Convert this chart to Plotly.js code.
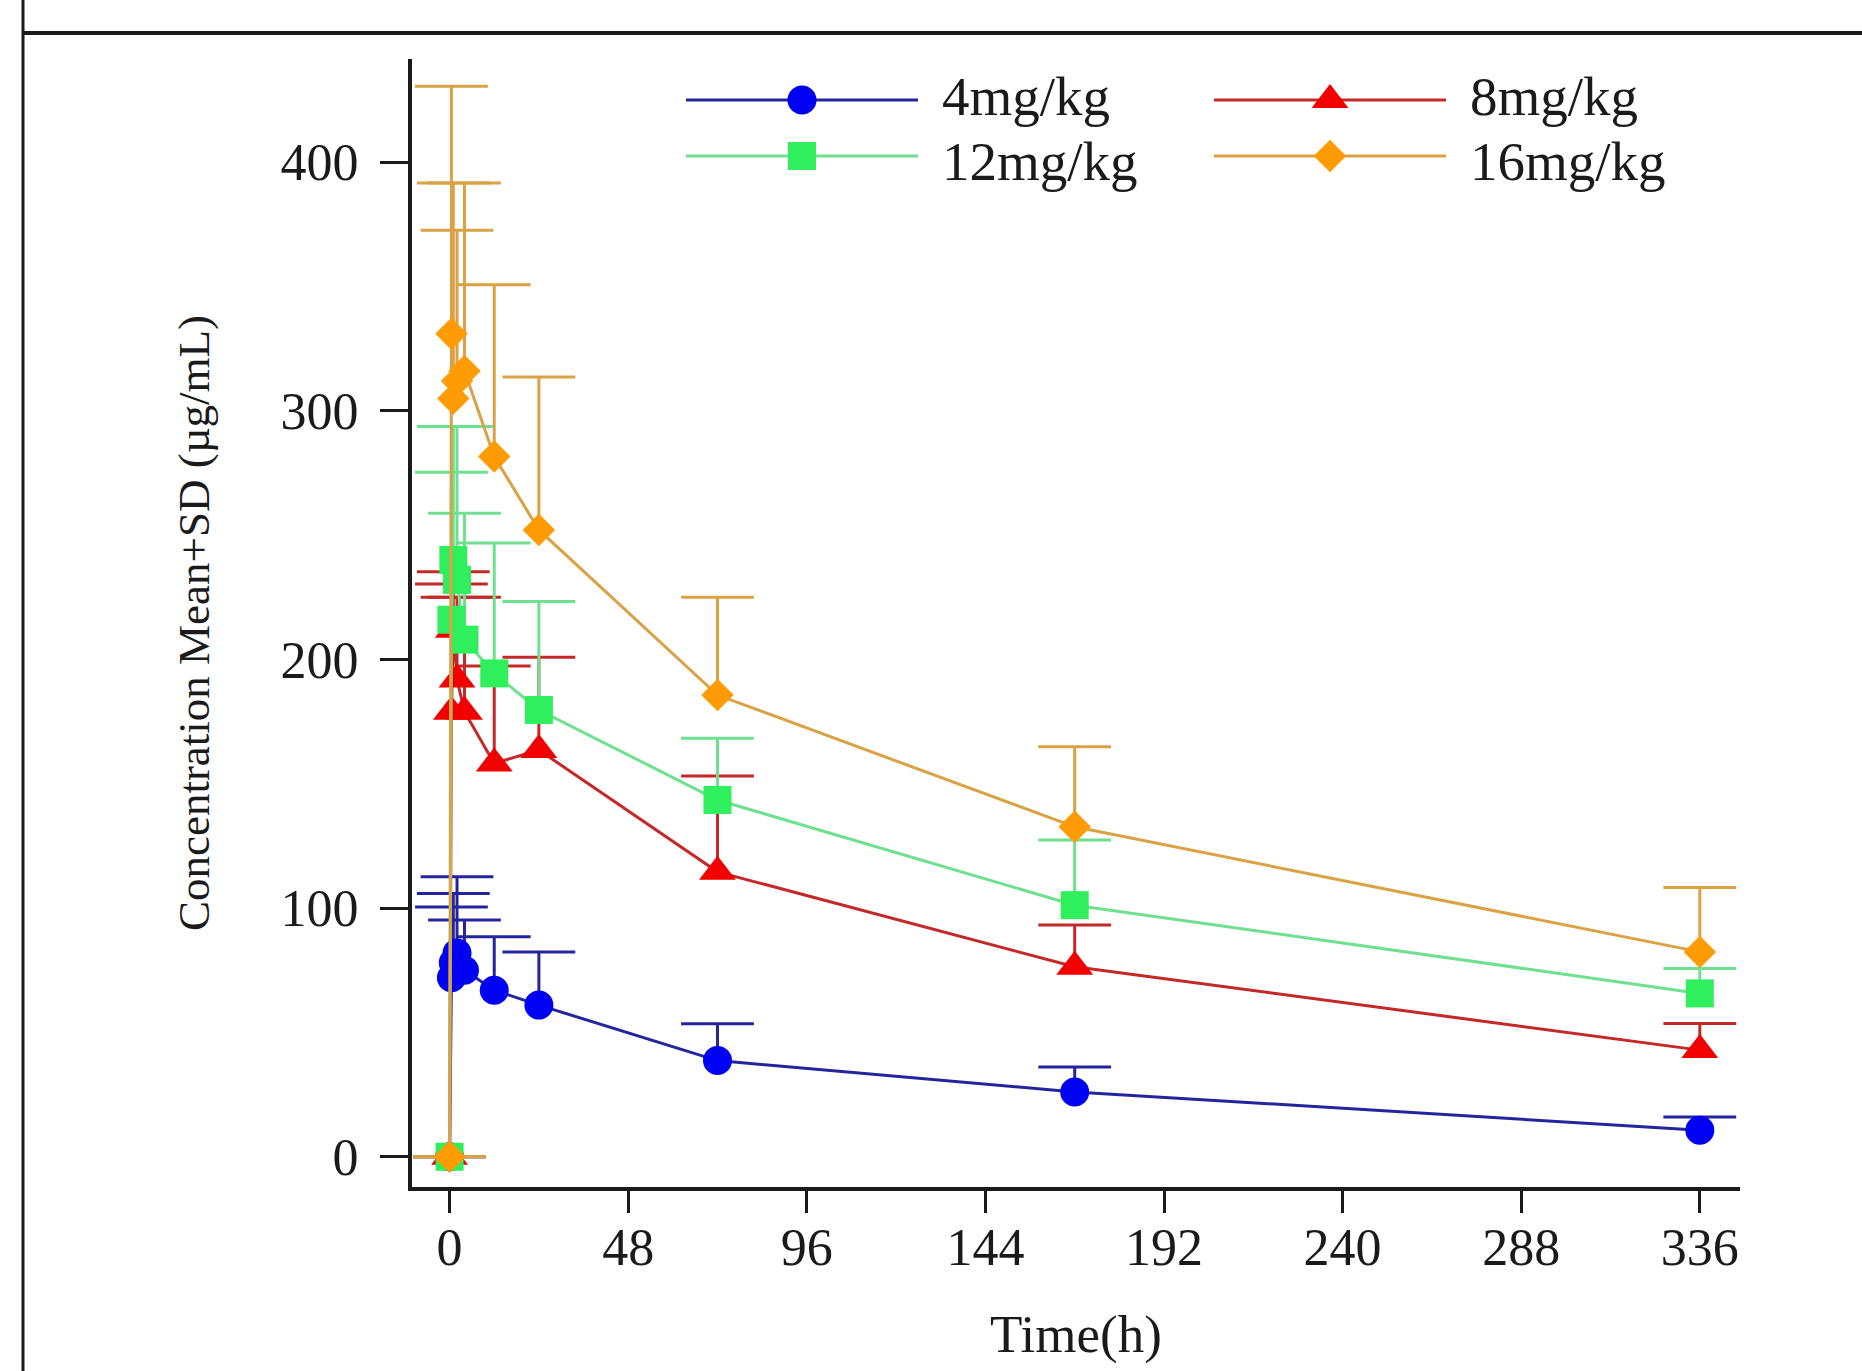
<!DOCTYPE html>
<html>
<head>
<meta charset="utf-8">
<script src="https://cdn.plot.ly/plotly-3.0.1.min.js"></script>
<style>
html,body{margin:0;padding:0;background:#fff;}
#chart{width:1862px;height:1371px;}
</style>
</head>
<body>
<div id="chart"></div>
<script>
// ---------------- data ----------------
const timeHours = [0, 0.5, 1, 2, 4, 12, 24, 72, 168, 336];
const seriesNames = ['4mg/kg', '8mg/kg', '12mg/kg', '16mg/kg'];

const mean4mg  = [0, 72, 78, 82, 75, 67, 61, 38.7, 26.1, 10.7];
const sd4mg    = [0, 28.5, 27.9, 30.6, 20.2, 21.5, 21.4, 14.8, 10.0, 5.3];

const mean8mg  = [0, 179, 212, 192, 179, 158.2, 163.6, 114.6, 76.4, 42.9];
const sd8mg    = [0, 51.4, 23.3, 33, 46, 39.2, 37.3, 38.5, 16.8, 10.7];

const mean12mg = [0, 216, 240, 232, 208, 194.4, 179.7, 143.5, 101.2, 65.7];
const sd12mg   = [0, 59.3, 53.7, 61.7, 50.8, 52.4, 43.6, 24.8, 26.2, 10.0];

const mean16mg = [0, 331, 305, 312, 316, 281.6, 252.1, 185.7, 132.7, 82.4];
const sd16mg   = [0, 99.5, 86.6, 60.6, 75.6, 69.1, 61.5, 39.3, 32.2, 25.9];

const xTickVals = [0, 48, 96, 144, 192, 240, 288, 336];
const yTickVals = [0, 100, 200, 300, 400];

// ---------------- styles ----------------
const FONT = '"Liberation Serif", "Times New Roman", serif';
const styles = [
  {line: '#24249c', marker: '#0000f2', symbol: 'circle',      size: 29},
  {line: '#c42828', marker: '#f20000', symbol: 'triangle-up', size: 32},
  {line: '#6fe08f', marker: '#2ff05c', symbol: 'square',      size: 28},
  {line: '#dba145', marker: '#ff9b05', symbol: 'diamond',     size: 25}
];
const means = [mean4mg, mean8mg, mean12mg, mean16mg];
const sds = [sd4mg, sd8mg, sd12mg, sd16mg];

// plot-area geometry (px)
const W = 1862, H = 1371;
const M = {l: 412, r: 122, t: 59, b: 184};
const PW = W - M.l - M.r, PH = H - M.t - M.b;
const px2x = p => (p - M.l) / PW;
const py2y = p => (M.t + PH - p) / PH;

const traces = [];
seriesNames.forEach((name, i) => {
  const st = styles[i];
  const upper = means[i].map((m, k) => m + sds[i][k]);
  // caps of the upper error bars
  traces.push({
    type: 'scatter', mode: 'markers', x: timeHours, y: upper,
    marker: {symbol: 'line-ew', size: 52, line: {width: 3, color: st.line}, color: st.line},
    showlegend: false, hoverinfo: 'skip', cliponaxis: false
  });
  // mean line with the error-bar stems
  traces.push({
    type: 'scatter', mode: 'lines+markers', name: name,
    x: timeHours, y: means[i],
    line: {color: st.line, width: 3},
    marker: {symbol: st.symbol, size: st.size, color: st.marker, line: {width: 0}},
    error_y: {type: 'data', symmetric: false, array: sds[i],
              arrayminus: sds[i].map(() => 0), color: st.line, thickness: 3, width: 0},
    showlegend: false, cliponaxis: false
  });
});

// ---------------- custom legend (long line samples like the reference) ----------------
const shapes = [];
const annotations = [];
const legCols = [686, 1214], legRows = [100, 156], legTextRows = [97, 161];
const lineLen = 232;
function markerShape(sym, color, xa, ya, s) {
  const base = {xref: 'paper', yref: 'paper', xsizemode: 'pixel', ysizemode: 'pixel',
                xanchor: xa, yanchor: ya, fillcolor: color, line: {width: 0}, layer: 'above'};
  const r = s / 2;
  if (sym === 'circle') return Object.assign(base, {type: 'circle', x0: -r, x1: r, y0: -r, y1: r});
  if (sym === 'square') return Object.assign(base, {type: 'rect', x0: -r, x1: r, y0: -r, y1: r});
  if (sym === 'diamond') {
    const d = r * 1.3;
    return Object.assign(base, {type: 'path', path: `M${-d},0L0,${d}L${d},0L0,${-d}Z`});
  }
  const rt = r * 2 / Math.sqrt(3);
  return Object.assign(base, {type: 'path', path: `M${-rt},${-r / 2}L${rt},${-r / 2}L0,${r}Z`});
}
seriesNames.forEach((name, i) => {
  const st = styles[i];
  const x0 = legCols[i % 2], row = Math.floor(i / 2), y0 = legRows[row];
  shapes.push({type: 'line', xref: 'paper', yref: 'paper', layer: 'above',
    x0: px2x(x0), x1: px2x(x0 + lineLen), y0: py2y(y0), y1: py2y(y0),
    line: {color: st.line, width: 3}});
  shapes.push(markerShape(st.symbol, st.marker, px2x(x0 + lineLen / 2), py2y(y0), st.size));
  annotations.push({xref: 'paper', yref: 'paper', x: px2x(x0 + 254), y: py2y(legTextRows[row]),
    xanchor: 'left', yanchor: 'middle', showarrow: false, text: name,
    font: {family: FONT, size: 55, color: '#1a1a1a'}});
});

// frame lines of the original figure
shapes.push({type: 'line', xref: 'paper', yref: 'paper', layer: 'above',
  x0: px2x(23), x1: px2x(23), y0: py2y(H), y1: py2y(0), line: {color: '#1a1a1a', width: 3}});
shapes.push({type: 'line', xref: 'paper', yref: 'paper', layer: 'above',
  x0: px2x(23), x1: px2x(W), y0: py2y(33), y1: py2y(33), line: {color: '#1a1a1a', width: 4}});

const layout = {
  width: W, height: H,
  margin: M,
  paper_bgcolor: '#ffffff', plot_bgcolor: '#ffffff',
  font: {family: FONT, color: '#1a1a1a', size: 52},
  showlegend: false,
  xaxis: {
    range: [-10.1, 346.8], tickvals: xTickVals, ticktext: xTickVals.map(String),
    showgrid: false, zeroline: false, showline: true, linecolor: '#1a1a1a', linewidth: 4,
    ticks: 'outside', ticklen: 22, tickwidth: 3, tickcolor: '#1a1a1a',
    ticklabelstandoff: -10,
    tickfont: {family: FONT, size: 52, color: '#1a1a1a'},
    title: {text: 'Time(h)', font: {family: FONT, size: 53, color: '#1a1a1a'}, standoff: 40}
  },
  yaxis: {
    range: [-12.15, 441.5], tickvals: yTickVals, ticktext: yTickVals.map(String),
    showgrid: false, zeroline: false, showline: true, linecolor: '#1a1a1a', linewidth: 4,
    ticks: 'outside', ticklen: 28, tickwidth: 3, tickcolor: '#1a1a1a',
    ticklabelstandoff: 11,
    tickfont: {family: FONT, size: 52, color: '#1a1a1a'},
    title: {text: 'Concentration Mean+SD (µg/mL)', font: {family: FONT, size: 45, color: '#1a1a1a'}, standoff: 58}
  },
  shapes: shapes,
  annotations: annotations
};

Plotly.newPlot('chart', traces, layout, {displayModeBar: false, staticPlot: true});
</script>
</body>
</html>
